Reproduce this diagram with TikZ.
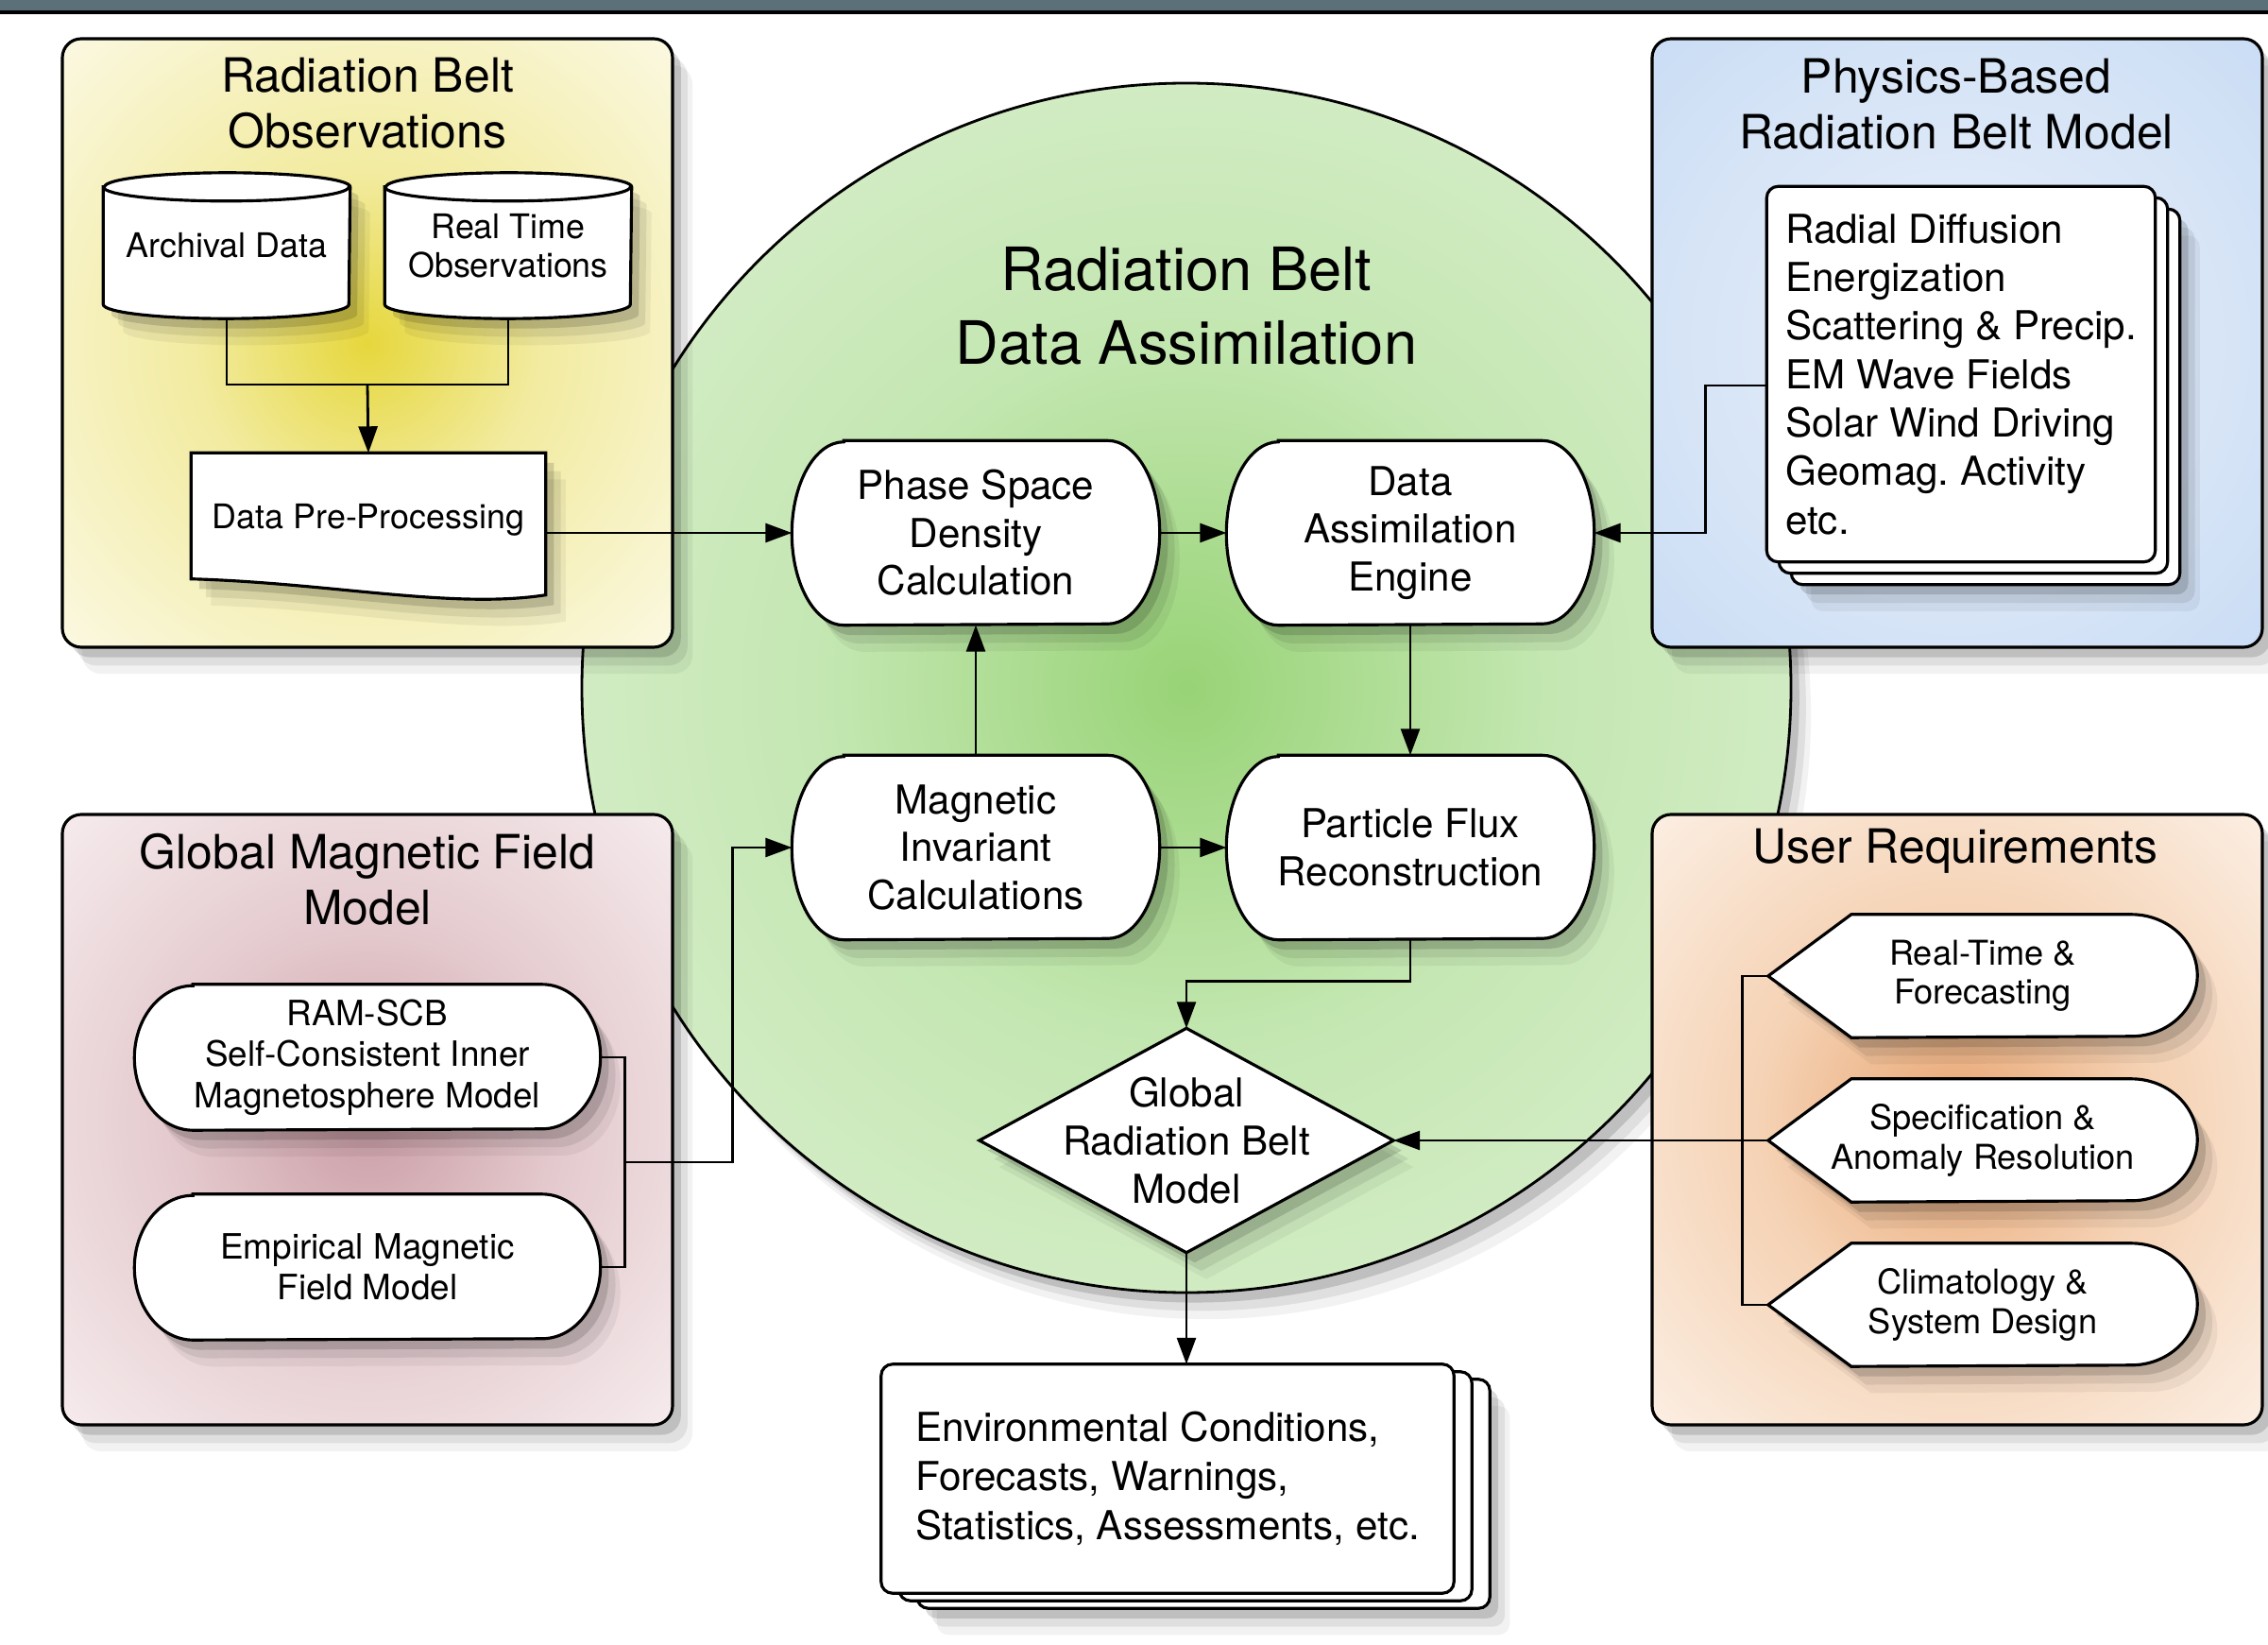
\documentclass[tikz,border=0pt]{standalone}
\usepackage{fontspec}
\setmainfont{TeX Gyre Heros}
\frenchspacing
\usetikzlibrary{arrows.meta,shadows,calc}

\definecolor{barc}{RGB}{92,112,122}
\definecolor{obsin}{RGB}{230,215,60}
\definecolor{obsmid}{RGB}{242,235,160}
\definecolor{obsout}{RGB}{252,250,234}
\definecolor{physin}{RGB}{232,239,250}
\definecolor{physmid}{RGB}{212,227,246}
\definecolor{physout}{RGB}{188,212,243}
\definecolor{magin}{RGB}{203,158,166}
\definecolor{magmid}{RGB}{228,202,206}
\definecolor{magout}{RGB}{250,243,244}
\definecolor{userin}{RGB}{232,166,115}
\definecolor{usermid}{RGB}{245,210,180}
\definecolor{userout}{RGB}{253,245,238}
\definecolor{dain}{RGB}{152,211,118}
\definecolor{damid}{RGB}{196,231,178}
\definecolor{daout}{RGB}{228,242,219}

\pgfdeclareradialshading{obsfade}{\pgfpoint{0bp}{0bp}}{color(0bp)=(obsin); color(14bp)=(obsmid); color(38bp)=(obsout); color(75bp)=(obsout)}
\pgfdeclareradialshading{physfade}{\pgfpoint{0bp}{0bp}}{color(0bp)=(physin); color(25bp)=(physmid); color(50bp)=(physout); color(75bp)=(physout)}
\pgfdeclareradialshading{magfade}{\pgfpoint{0bp}{0bp}}{color(0bp)=(magin); color(16bp)=(magmid); color(40bp)=(magout); color(75bp)=(magout)}
\pgfdeclareradialshading{userfade}{\pgfpoint{0bp}{0bp}}{color(0bp)=(userin); color(16bp)=(usermid); color(40bp)=(userout); color(75bp)=(userout)}
\pgfdeclareradialshading{dafade}{\pgfpoint{0bp}{0bp}}{color(0bp)=(dain); color(15bp)=(damid); color(40bp)=(daout); color(75bp)=(daout)}

\pgfdeclarelayer{panels}
\pgfdeclarelayer{shapes}
\pgfsetlayers{panels,shapes,main}

\begin{document}
\begin{tikzpicture}[
    wire/.style={line width=.8pt},
    arr/.style={wire,-{Triangle[length=.28cm,width=.2cm]}},
    paper/.style={draw,fill=white,line width=.9pt},
    panel/.style={draw,line width=.9pt,rounded corners=.2cm,shade},
    softshadow/.style={general shadow={fill=black,opacity=.05,shadow xshift=6pt,shadow yshift=-8pt},
                       general shadow={fill=black,opacity=.08,shadow xshift=4.5pt,shadow yshift=-5.5pt},
                       general shadow={fill=black,opacity=.14,shadow xshift=2.5pt,shadow yshift=-3pt}},
    ttl/.style={align=center,font=\fontsize{14.2}{16.8}\selectfont},
    bigttl/.style={align=center,font=\fontsize{18}{22}\selectfont},
    box/.style={inner sep=0pt,align=center,font=\fontsize{12}{14.4}\selectfont},
    smallbox/.style={box,font=\fontsize{10.2}{11.6}\selectfont},
    procbox/.style={box,minimum width=3.88cm,minimum height=1.94cm},
    dbbox/.style={smallbox,minimum width=2.6cm,minimum height=1.53cm},
    modelbox/.style={box,font=\fontsize{10.5}{12.4}\selectfont,minimum width=4.92cm,minimum height=1.53cm},
    userbox/.style={box,font=\fontsize{10.3}{11.8}\selectfont,minimum width=4.53cm,minimum height=1.29cm}
  ]
  \useasboundingbox (0,0) rectangle (24.01,-17.41);

  \begin{pgfonlayer}{panels}
    \fill[white] (0,0) rectangle (24.01,-17.41);
    \draw[wire,shade,shading=dafade,softshadow] (12.56,-7.28) circle[radius=6.40];
    \foreach \a/\b/\c/\d/\f in {0.66/-0.41/7.12/-6.85/obsfade,17.49/-0.41/23.95/-6.85/physfade,
                                0.66/-8.62/7.12/-15.08/magfade,17.49/-8.62/23.95/-15.08/userfade}
      \draw[panel,shading=\f,softshadow] (\a,\b) rectangle (\c,\d);
    \fill[barc] (0,0) rectangle (24.01,-.13);
    \draw[line width=1pt] (0,-.13) -- (24.01,-.13);
  \end{pgfonlayer}

  % titles
  \node[ttl] (obsT) at (3.89,-1.09) {Radiation Belt\\Observations};
  \node[ttl] (physT) at (20.71,-1.10) {Physics-Based\\Radiation Belt Model};
  \node[ttl] (magT) at (3.89,-9.31) {Global Magnetic Field\\Model};
  \node[ttl] (userT) at (20.70,-9.01) {User Requirements};
  \node[bigttl] (daT) at (12.56,-3.24) {Radiation Belt\\Data Assimilation};

  % observations
  \node[dbbox] (arch) at (2.40,-2.60) {Archival Data};
  \node[dbbox] (rto) at (5.38,-2.60) {Real Time\\Observations};
  \node[smallbox,minimum width=3.74cm,minimum height=1.40cm] (dpp) at (3.90,-5.50) {Data Pre-Processing};

  % physics model
  \node[box,align=left,minimum width=4.10cm,minimum height=3.96cm,font=\fontsize{12}{14.6}\selectfont] (pm) at (20.76,-3.96)
    {Radial Diffusion\\Energization\\Scattering \& Precip.\\EM Wave Fields\\Solar Wind Driving\\Geomag. Activity\\etc.};

  % assimilation
  \node[procbox] (psd) at (10.33,-5.64) {Phase Space\\Density\\Calculation};
  \node[procbox] (dae) at (14.93,-5.64) {Data\\Assimilation\\Engine};
  \node[procbox] (mic) at (10.33,-8.97) {Magnetic\\Invariant\\Calculations};
  \node[procbox] (pfr) at (14.93,-8.97) {Particle Flux\\Reconstruction};
  \node[box,minimum width=4.37cm,minimum height=2.36cm] (dia) at (12.56,-12.07) {Global\\Radiation Belt\\Model};
  \node[box,align=left,minimum width=6.05cm,minimum height=2.41cm,font=\fontsize{12}{14.8}\selectfont] (out) at (12.36,-15.65)
    {Environmental Conditions,\\Forecasts, Warnings,\\Statistics, Assessments, etc.};

  % magnetic field
  \node[modelbox] (ram) at (3.89,-11.19) {RAM-SCB\\Self-Consistent Inner\\Magnetosphere Model};
  \node[modelbox] (emp) at (3.89,-13.41) {Empirical Magnetic\\Field Model};

  % users
  \node[userbox] (u1) at (20.99,-10.33) {Real-Time \&\\Forecasting};
  \node[userbox] (u2) at (20.99,-12.07) {Specification \&\\Anomaly Resolution};
  \node[userbox] (u3) at (20.99,-13.81) {Climatology \&\\System Design};

  \begin{pgfonlayer}{shapes}
    \foreach \n in {arch,rto}
      \draw[paper,softshadow] ([yshift=-.15cm]\n.north west) -- ([yshift=.15cm]\n.south west)
        arc[start angle=180,end angle=360,x radius=1.3,y radius=.15] -- ([yshift=-.15cm]\n.north east)
        arc[start angle=0,end angle=180,x radius=1.3,y radius=.15] -- cycle
        ([yshift=-.15cm]\n.north west) arc[start angle=180,end angle=360,x radius=1.3,y radius=.15];
    \draw[paper,softshadow] (dpp.north west) -- (dpp.north east) -- ([yshift=-.09cm]dpp.south east)
      .. controls (4.8,-6.45) and (3.5,-6.17) .. ([yshift=.08cm]dpp.south west) -- cycle;
    \foreach \n/\dx/\dy in {pm/.13/.12,out/.19/.08}{
      \draw[paper,softshadow,rounded corners=.12cm] ([shift={(2*\dx,-2*\dy)}]\n.north west) rectangle ([shift={(2*\dx,-2*\dy)}]\n.south east);
      \draw[paper,rounded corners=.12cm] ([shift={(\dx,-\dy)}]\n.north west) rectangle ([shift={(\dx,-\dy)}]\n.south east);
      \draw[paper,rounded corners=.12cm] (\n.north west) rectangle (\n.south east);
    }
    \foreach \n/\rx/\ry in {psd/.55/.97,dae/.55/.97,mic/.55/.97,pfr/.55/.97,ram/.62/.765,emp/.62/.765}
      \draw[paper,softshadow] ([xshift=\rx cm]\n.north west) -- ([xshift=-\rx cm]\n.north east)
        arc[start angle=90,end angle=-90,x radius=\rx,y radius=\ry] -- ([xshift=\rx cm]\n.south west)
        arc[start angle=270,end angle=90,x radius=\rx,y radius=\ry] -- cycle;
    \foreach \n in {u1,u2,u3}
      \draw[paper,softshadow] (\n.west) -- ([xshift=.88cm]\n.north west) -- ([xshift=-.7cm]\n.north east)
        arc[start angle=90,end angle=-90,x radius=.7,y radius=.645] -- ([xshift=.88cm]\n.south west) -- cycle;
    \draw[paper,softshadow] (dia.north) -- (dia.east) -- (dia.south) -- (dia.west) -- cycle;
  \end{pgfonlayer}

  % connectors
  \coordinate (jn) at (3.89,-4.07);
  \draw[wire] (arch.south) |- (jn) -| (rto.south);
  \draw[arr] (jn) -- (dpp.north);
  \draw[arr] (dpp.east |- psd.west) -- (psd.west);
  \draw[arr] (psd) -- (dae);
  \draw[arr] (mic) -- (psd);
  \draw[arr] (mic) -- (pfr);
  \draw[arr] (dae) -- (pfr);
  \draw[arr] ([yshift=-.12cm]pm.west) -- ++(-.65,0) |- (dae.east);
  \draw[arr] (pfr.south) -- ++(0,-.44) -| (dia.north);
  \draw[arr] (dia.south) -- (dia.south |- out.north);
  \draw[wire] (ram.east) -- ++(.26,0) |- (emp.east);
  \draw[arr] ($(ram.east)!.5!(emp.east)$) ++(.26,0) -- ++(1.14,0) |- (mic.west);
  \draw[wire] (u1.west) -- ++(-.27,0) |- (u3.west);
  \draw[arr] (u2.west) -- (dia.east);
\end{tikzpicture}
\end{document}
